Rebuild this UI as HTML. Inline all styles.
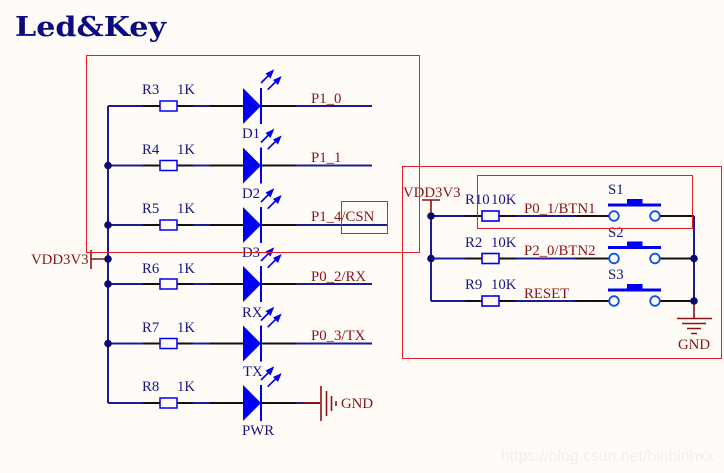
<!DOCTYPE html>
<html><head><meta charset="utf-8"><style>
html,body{margin:0;padding:0;background:#fffcf8;width:724px;height:473px;overflow:hidden}
svg{display:block}
text{font-family:"Liberation Serif",serif;font-size:14.800px}
.n{fill:#16167f}.m{fill:#861414}
</style></head><body>
<svg width="724" height="473" viewBox="0 0 724 473" xmlns="http://www.w3.org/2000/svg">
<rect width="724" height="473" fill="#fffcf8"/>
<text x="15" y="36" style="font-family:'DejaVu Serif',serif;font-size:27px;font-weight:bold" fill="#0b0b80" textLength="151" lengthAdjust="spacingAndGlyphs">Led&amp;Key</text>

<defs>
<g id="led">
<path d="M108 0H143" stroke="#1c1c90" stroke-width="2" fill="none"/>
<path d="M143 0H160M176 0H193M210 0H243M261 0H296" stroke="#111" stroke-width="2" fill="none"/>
<path d="M193 0H210" stroke="#1c1c90" stroke-width="2" fill="none"/>
<rect x="160" y="-5" width="17" height="10" fill="#fffcf8" stroke="#0000f0" stroke-width="1.500"/>
<path d="M243 -18L261 0L243 18Z" fill="#0000f0"/>
<path d="M261 -18V18" stroke="#0000f0" stroke-width="2"/>
<path d="M261 -23L270 -32M267.700 -16.300L277 -25.500" stroke="#0000f0" stroke-width="1.600"/>
<path d="M274.300 -36.700L265.500 -32.500L270.500 -27.500ZM281.700 -30L273 -26L278 -21Z" fill="#0000f0"/>
</g>
<g id="key">
<path d="M431 0H465M516 0H575" stroke="#1c1c90" stroke-width="2" fill="none"/>
<path d="M465 0H482M499 0H516M575 0H609M660 0H694" stroke="#111" stroke-width="2" fill="none"/>
<rect x="482" y="-5" width="17" height="10" fill="#fffcf8" stroke="#0000f0" stroke-width="1.600"/>
<circle cx="614" cy="0" r="4.800" fill="#fffcf8" stroke="#0a50f0" stroke-width="1.800"/>
<circle cx="655" cy="0" r="4.800" fill="#fffcf8" stroke="#0a50f0" stroke-width="1.800"/>
<path d="M608 -11H661" stroke="#0000f0" stroke-width="3"/>
<rect x="627" y="-17" width="15.500" height="6" fill="#0000f0"/>
</g>
</defs>

<use href="#led" y="106"/>
<use href="#led" y="165.500"/>
<use href="#led" y="225"/>
<use href="#led" y="284"/>
<use href="#led" y="343.500"/>
<use href="#led" y="403"/>

<path d="M296 106H372M296 165.500H372M296 225H387M296 284H372M296 343.500H372" stroke="#1c1c90" stroke-width="2" fill="none"/>
<path d="M108 106V403" stroke="#1c1c90" stroke-width="2" fill="none"/>
<g fill="#0a0a70"><circle cx="108" cy="165.500" r="3.800"/><circle cx="108" cy="225" r="3.800"/><circle cx="108" cy="259" r="3.800"/><circle cx="108" cy="284" r="3.800"/><circle cx="108" cy="343.500" r="3.800"/></g>
<path d="M91 259H105M91 250V269" stroke="#861414" stroke-width="1.600" fill="none"/>
<text x="31" y="264" class="m">VDD3V3</text>

<path d="M296 403H304" stroke="#1c1c90" stroke-width="2"/>
<path d="M304 403H320" stroke="#861414" stroke-width="2"/>
<path d="M321 386V421M326.500 391V416M331.500 396V411M336 401V406" stroke="#861414" stroke-width="1.600"/>
<text x="341" y="408" class="m">GND</text>

<g class="n">
<text x="142" y="94">R3</text><text x="177" y="94">1K</text>
<text x="142" y="154">R4</text><text x="177" y="154">1K</text>
<text x="142" y="213">R5</text><text x="177" y="213">1K</text>
<text x="142" y="273">R6</text><text x="177" y="273">1K</text>
<text x="142" y="332">R7</text><text x="177" y="332">1K</text>
<text x="142" y="391">R8</text><text x="177" y="391">1K</text>
<text x="242" y="138">D1</text><text x="242" y="198">D2</text><text x="242" y="257">D3</text>
<text x="242" y="317">RX</text><text x="243" y="376">TX</text><text x="242" y="435">PWR</text>
</g>
<g class="m">
<text x="311" y="103">P1_0</text><text x="311" y="162">P1_1</text><text x="311" y="221">P1_4/CSN</text>
<text x="311" y="281">P0_2/RX</text><text x="311" y="340">P0_3/TX</text>
</g>

<use href="#key" y="216"/>
<use href="#key" y="258.500"/>
<use href="#key" y="301"/>
<path d="M431 216V301M694 216V301" stroke="#1c1c90" stroke-width="2" fill="none"/>
<g fill="#0a0a70"><circle cx="431" cy="216" r="3.800"/><circle cx="431" cy="258.500" r="3.800"/><circle cx="694" cy="258.500" r="3.800"/><circle cx="694" cy="301" r="3.800"/></g>
<path d="M431 200V213M422 200H440" stroke="#861414" stroke-width="1.600" fill="none"/>
<text x="403" y="197" class="m">VDD3V3</text>
<path d="M694 304V318M677 318.500H712M682 323.500H706M687 328.500H701M691 333.500H697" stroke="#861414" stroke-width="1.600" fill="none"/>
<text x="678" y="349" class="m">GND</text>
<g class="n">
<text x="465" y="204">R10</text><text x="491" y="204">10K</text>
<text x="465" y="247">R2</text><text x="491" y="247">10K</text>
<text x="465" y="289">R9</text><text x="491" y="289">10K</text>
<text x="608" y="194">S1</text><text x="608" y="237">S2</text><text x="608" y="279">S3</text>
</g>
<g class="m">
<text x="524" y="213">P0_1/BTN1</text><text x="524" y="255">P2_0/BTN2</text><text x="524" y="298">RESET</text>
</g>

<g fill="none" stroke="#e81c24" stroke-width="1">
<rect x="86.500" y="55.500" width="333" height="197"/>
<rect x="341.500" y="201.500" width="46" height="32"/>
<rect x="402.500" y="166.500" width="319" height="192"/>
<rect x="477.500" y="175.500" width="215" height="53"/>
</g>
<text x="501" y="461" style="font-family:'Liberation Sans',sans-serif;font-size:15.500px" fill="#f0eeeb" textLength="213">https://blog.csdn.net/binbinhxx</text>
</svg>
</body></html>
